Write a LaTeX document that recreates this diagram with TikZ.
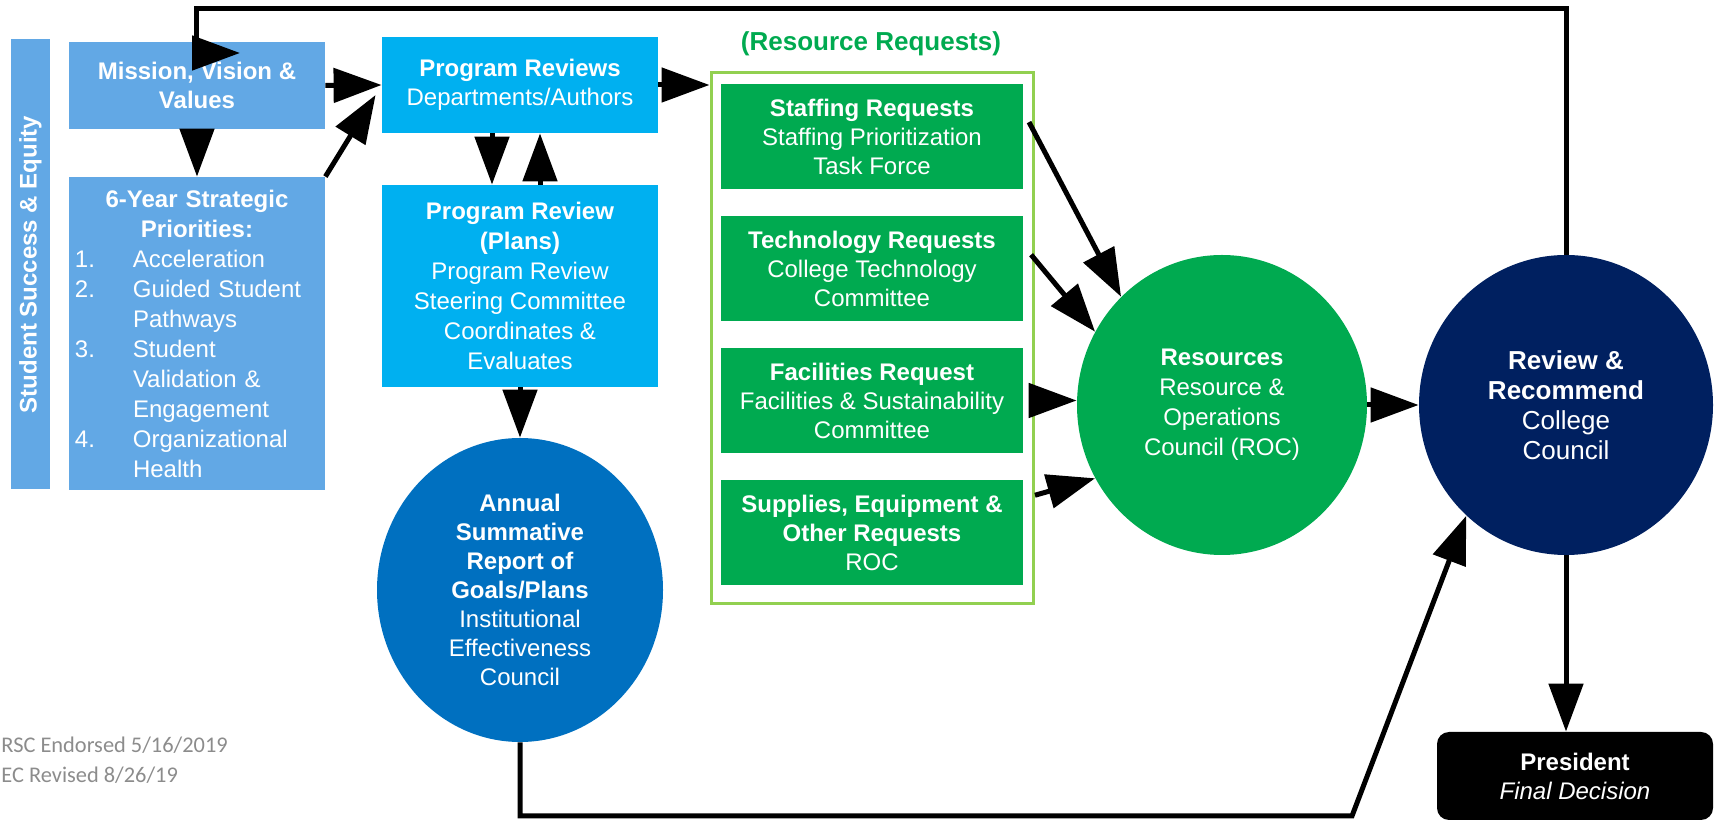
\documentclass[tikz,border=0pt]{standalone}
\usepackage{fontspec}
\setmainfont{Liberation Sans}
\newfontfamily\notefont{Carlito}
\usetikzlibrary{shapes,arrows.meta,calc,positioning}

\definecolor{ssblue}{RGB}{98,168,229}
\definecolor{prcyan}{RGB}{0,176,240}
\definecolor{iecblue}{RGB}{0,112,192}
\definecolor{rocgreen}{RGB}{0,170,80}
\definecolor{rimgreen}{RGB}{146,208,80}
\definecolor{ccnavy}{RGB}{0,32,96}

\begin{document}
\begin{tikzpicture}[x=0.5pt,y=-0.5pt,
	box/.style={rectangle,inner sep=2pt,text=white,align=center,font=\fontsize{12}{14.5}\selectfont},
	ssbox/.style={box,fill=ssblue,minimum width=128pt},
	prbox/.style={box,fill=prcyan,minimum width=138pt},
	reqbox/.style={box,fill=rocgreen,minimum width=151pt,minimum height=52.5pt},
	blob/.style={ellipse,inner sep=0pt,text=white,align=center,font=\fontsize{12}{14.5}\selectfont},
	arr/.style={line width=2.5pt,-{Triangle[length=24pt,width=17pt]}},
	reqarr/.style={arr,shorten <=6pt}]
\useasboundingbox (0,0) rectangle (1725,822);

% left column
\node[box,fill=ssblue,rotate=90,minimum width=225pt,minimum height=19.5pt,font=\bfseries\fontsize{12}{14.5}\selectfont] at (30.5,264.5) (bar) {Student Success \& Equity};
\node[ssbox,minimum height=43.5pt] at (197,85.5) (mis) {\textbf{Mission, Vision \&}\\\textbf{Values}};
\node[ssbox,minimum height=156.5pt,text width=122pt,inner xsep=3pt,align=left,font=\fontsize{12}{15}\selectfont] at (197,333.5) (prio) {{\centering\bfseries 6-Year Strategic\\Priorities:\par}
\makebox[29pt][l]{1.}Acceleration\\
\makebox[29pt][l]{2.}Guided Student\\
\hspace*{29pt}Pathways\\
\makebox[29pt][l]{3.}Student\\
\hspace*{29pt}Validation \&\\
\hspace*{29pt}Engagement\\
\makebox[29pt][l]{4.}Organizational\\
\hspace*{29pt}Health};

% program review column
\node[prbox,minimum height=48pt] at (520,85) (prev) {\textbf{Program Reviews}\\Departments/Authors};
\node[prbox,minimum height=101pt,font=\fontsize{12}{15}\selectfont] at (520,286) (plans) {\textbf{Program Review}\\\textbf{(Plans)}\\Program Review\\Steering Committee\\Coordinates \&\\Evaluates};
\node[blob,fill=iecblue,minimum width=143pt,minimum height=152pt] at (520,590) (ann) {\textbf{Annual}\\\textbf{Summative}\\\textbf{Report of}\\\textbf{Goals/Plans}\\Institutional\\Effectiveness\\Council};

% resource requests
\node[text=rocgreen,font=\bfseries\fontsize{13}{15}\selectfont] at (871,44) (rrlabel) {(Resource Requests)};
\node[draw=rimgreen,line width=1.5pt,minimum width=161pt,minimum height=265.5pt] at (872,338.5) (cont) {};
\node[reqbox] at (872,136.5) (staff) {\textbf{Staffing Requests}\\Staffing Prioritization\\Task Force};
\node[reqbox] at (872,268.5) (tech) {\textbf{Technology Requests}\\College Technology\\Committee};
\node[reqbox] at (872,400.5) (fac) {\textbf{Facilities Request}\\Facilities \& Sustainability\\Committee};
\node[reqbox] at (872,532.5) (sup) {\textbf{Supplies, Equipment \&}\\\textbf{Other Requests}\\ROC};

% councils
\node[blob,fill=rocgreen,minimum width=145pt,minimum height=150pt,font=\fontsize{12}{15}\selectfont] at (1222,405) (roc) {\textbf{Resources}\\Resource \&\\Operations\\Council (ROC)};
\node[blob,fill=ccnavy,minimum width=147pt,minimum height=150pt,font=\fontsize{13}{15}\selectfont] at (1566,405) (rev) {\textbf{Review \&}\\\textbf{Recommend}\\College\\Council};
\node[box,fill=black,rounded corners=6pt,minimum width=138pt,minimum height=44pt] at (1575,776) (pres) {\textbf{President}\\\textit{Final Decision}};

\node[anchor=west,inner sep=0pt,text=black!45,align=left,font=\notefont\fontsize{11.2}{15}\selectfont] at (1,760) (notes) {RSC Endorsed 5/16/2019\\EC Revised 8/26/19};

\coordinate (topr) at (1566,9);
\coordinate (topl) at (196,9);
\coordinate (loopc) at (196,53);
\coordinate (loopend) at (240,53);
\coordinate (bend) at (1352,816);

% arrows
\draw[arr] (mis.south) -- (prio.north);
\draw[arr] (mis.east) -- (prev.west);
\draw[arr] (prio.north east) -- ([xshift=-3pt,yshift=-5pt]prev.west);
\draw[arr] (prev.east) -- (prev.east -| cont.west);
\draw[arr] ([xshift=-14pt]prev.south) -- ([xshift=-14pt]plans.north);
\draw[arr] ([xshift=10pt]plans.north) -- ([xshift=10pt]prev.south);
\draw[arr] (plans.south) -- (ann.north);

\draw[reqarr] ([yshift=12.5pt]staff.east) -- (roc.133);
\draw[reqarr] ([yshift=11.5pt]tech.east) -- (roc.150);
\draw[reqarr] (fac.east) -- (fac.east -| roc.west);
\draw[reqarr] ([yshift=17pt]sup.east) -- (roc.210);

\draw[arr] (roc.east) -- (rev.west);
\draw[arr] (rev.south) -- (rev.south |- pres.north);
\draw[arr] (ann.south) |- (bend) -- (rev.228);
\draw[arr] (rev.north) -- (topr) -- (topl) -- (loopc) -- (loopend);
\end{tikzpicture}
\end{document}
